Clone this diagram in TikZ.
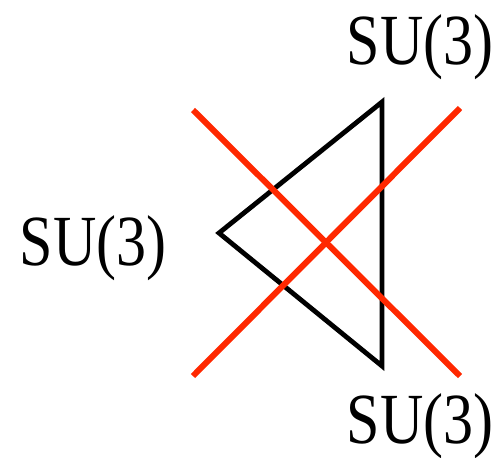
\documentclass[tikz,border=0pt]{standalone}
\usepackage{fontspec}
\setmainfont{Liberation Serif}
\tikzset{
  lbl/.style={anchor=base, inner sep=0pt, font=\fontsize{60}{60}\selectfont},
  tri/.style={draw=black, line width=4.8pt, line join=miter},
  cross/.style={draw={rgb,255:red,255;green,40;blue,0}, line width=6pt}
}
\newcommand{\sulbl}{\scalebox{1}[1.2]{SU(3)}}
\begin{document}
\begin{tikzpicture}[x=1pt,y=-1pt]
\useasboundingbox (0,0) rectangle (504,458);
\coordinate (L) at (219,233);
\coordinate (T) at (382,102);
\coordinate (B) at (382,366);
\coordinate (r1a) at (193,110);
\coordinate (r1b) at (460,376);
\coordinate (r2a) at (193,376);
\coordinate (r2b) at (460,108);
\draw[tri] (L) -- (T) -- (B) -- cycle;
\draw[cross] (r1a) -- (r1b);
\draw[cross] (r2a) -- (r2b);
\node[lbl] (top) at (420,64) {\sulbl};
\node[lbl] (left) at (93,265) {\sulbl};
\node[lbl] (bot) at (420,443) {\sulbl};
\end{tikzpicture}
\end{document}
